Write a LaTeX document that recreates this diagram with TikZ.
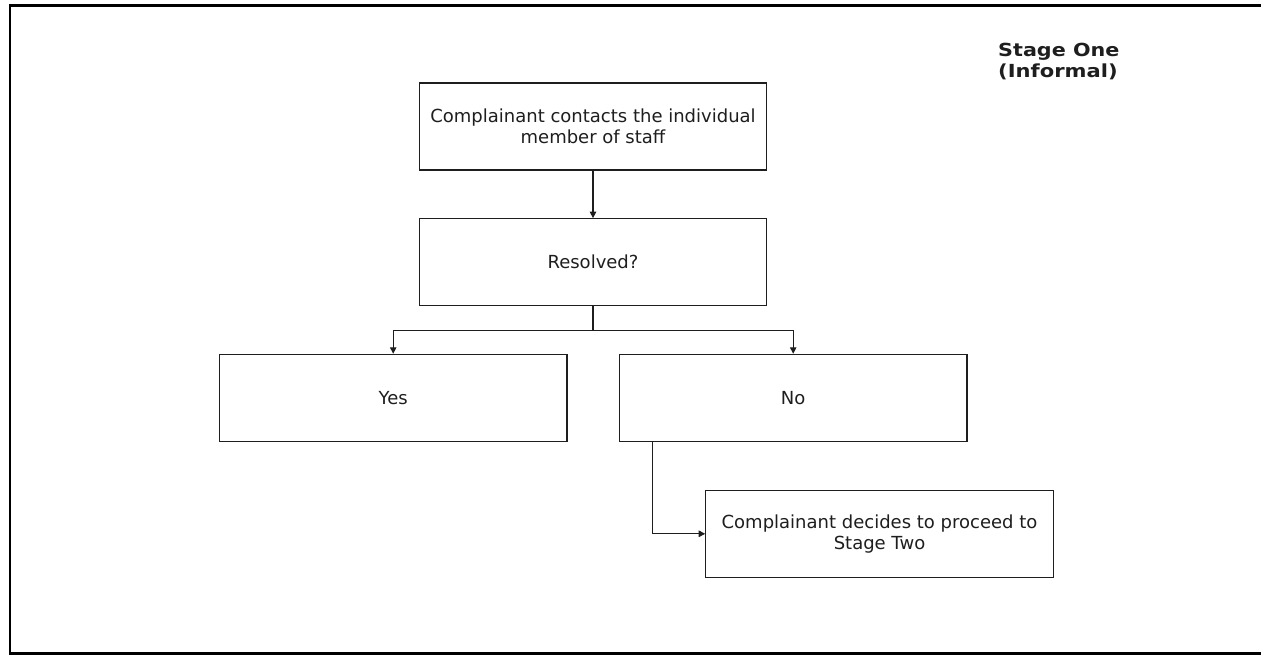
\documentclass[tikz,border=0pt]{standalone}
\usepackage{fontspec}
\usepackage{graphicx}
\setmainfont{DejaVu Sans}
\usetikzlibrary{arrows.meta}
\definecolor{ink}{HTML}{1E1E1E}
\tikzset{
  box/.style={draw=ink, line width=1.1pt, minimum width=347.5pt, minimum height=87pt,
    align=center, inner sep=0pt, font=\fontsize{18}{21}\selectfont, text=ink},
  link/.style={draw=ink, line width=1.1pt, -{Triangle[length=6.5pt,width=6.5pt]}},
  plain/.style={draw=ink, line width=1.1pt},
  frame/.style={draw=black, line width=2.2pt}
}
\begin{document}
\begin{tikzpicture}[x=1pt,y=-1pt]
\useasboundingbox (0,0) rectangle (1261,658);
\draw[frame] (1275,5.5) -- (10,5.5) -- (10,653.5) -- (1275,653.5);
\node[anchor=base west, align=left, inner sep=0pt, font=\bfseries\fontsize{18}{21.5}\selectfont, text=ink] (title) at (998,78) {\scalebox{1.15}[1]{Stage One}\\\scalebox{1.17}[1]{(Informal)}};
\node[box] (contact) at (593,126.5) {Complainant contacts the individual\\member of staff};
\node[box] (resolved) at (593,262.2) {Resolved?};
\node[box] (yes) at (393.2,397.8) {Yes};
\node[box] (no) at (793.2,397.8) {No};
\node[box] (stage2) at (879.5,533.8) {Complainant decides to proceed to\\Stage Two};
\coordinate (split) at (593,330.5);
\draw[link] (contact) -- (resolved);
\draw[plain] (resolved.south) -- (split);
\draw[link] (split) -| (yes.north);
\draw[link] (split) -| (no.north);
\draw[link] ([xshift=34pt]no.south west) |- (stage2.west);
\end{tikzpicture}
\end{document}
